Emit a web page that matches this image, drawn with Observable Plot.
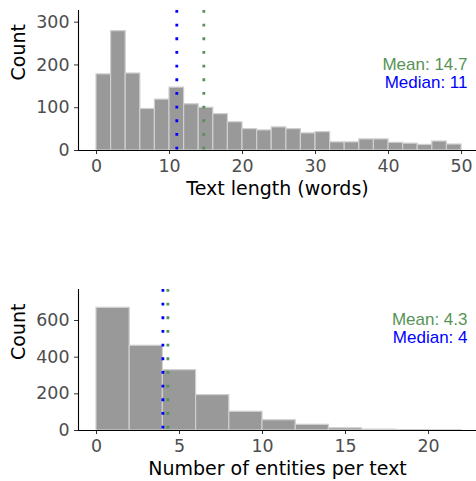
<!DOCTYPE html>
<html><head><meta charset="utf-8">
<script src="https://cdn.jsdelivr.net/npm/d3@7"></script>
<script src="https://cdn.jsdelivr.net/npm/@observablehq/plot@0.6"></script>
<style>
body{margin:0;background:#fff}
#chart svg{display:block}
</style>
</head><body><div id="chart"></div>
<script>
// Panel 1: text length histogram (bin width 2 words)
const lengthBinStart = [0,2,4,6,8,10,12,14,16,18,20,22,24,26,28,30,32,34,36,38,40,42,44,46,48];
const lengthCounts   = [178,279,180,97,119,147,108,100,85,66,50,47,54,50,40,43,19,19,26,26,18,16,13,21,14];
const lengthTicksX = [0,10,20,30,40,50];
const lengthTicksY = [0,100,200,300];
const lengthMean = 14.7;
const lengthMedian = 11;

// Panel 2: entities per text histogram (bin width 2)
const entityBinStart = [0,2,4,6,8,10,12,14,16,18,20];
const entityCounts   = [669,462,329,193,102,56,31,12,5,2,1];
const entityTicksX = [0,5,10,15,20];
const entityTicksY = [0,200,400,600];
const entityMean = 4.3;
const entityMedian = 4;

const binWidth = 2;
const meanColor = "#579357";
const medianColor = "#0000ff";

function panel(opts) {
  const {starts, counts, xDomain, yDomain, ticksX, ticksY, mean, median, xTitle,
         height, marginTop, marginBottom, labelDy} = opts;
  const bins = starts.map((s, i) => ({x1: s, x2: s + binWidth, count: counts[i]}));
  return Plot.plot({
    width: 476, height, marginTop, marginBottom, marginLeft: 78, marginRight: 0,
    style: {fontFamily: "DejaVu Sans", fontSize: "17px", color: "#4d4d4d", background: "#fff", overflow: "visible"},
    x: {domain: xDomain, axis: null},
    y: {domain: yDomain, axis: null},
    marks: [
      Plot.rectY(bins, {x1: "x1", x2: "x2", y: "count", fill: "#999999", stroke: "#cfcfcf", strokeWidth: 1.2}),
      Plot.ruleX([median], {stroke: medianColor, strokeWidth: 2.8, strokeDasharray: "2.8 10.87"}),
      Plot.ruleX([mean], {stroke: meanColor, strokeWidth: 2.8, strokeDasharray: "2.8 10.87"}),
      Plot.axisX({ticks: ticksX, tickSize: 4, tickPadding: 5, label: null, stroke: "#333", fill: "#4d4d4d", fontSize: 17.4}),
      Plot.axisY({ticks: ticksY, tickSize: 4, tickPadding: 5, label: null, stroke: "#333", fill: "#4d4d4d", fontSize: 17.4}),
      Plot.ruleY([yDomain[0]], {stroke: "#000", strokeWidth: 1.1}),
      Plot.ruleX([xDomain[0]], {stroke: "#000", strokeWidth: 1.1}),
      Plot.text([xTitle], {frameAnchor: "bottom", dy: 38, lineAnchor: "middle", fill: "#000", fontSize: 19, text: d => d}),
      Plot.text(["Count"], {frameAnchor: "left", dx: -60, rotate: -90, lineAnchor: "middle", fill: "#000", fontSize: 19, text: d => d}),
      Plot.text([`Mean: ${mean}`], {frameAnchor: "top-right", dx: -9, dy: labelDy[0], text: d => d, fill: meanColor,
        textAnchor: "end", lineAnchor: "middle", fontFamily: "Liberation Sans", fontSize: 17}),
      Plot.text([`Median: ${median}`], {frameAnchor: "top-right", dx: -9, dy: labelDy[1], text: d => d, fill: medianColor,
        textAnchor: "end", lineAnchor: "middle", fontFamily: "Liberation Sans", fontSize: 17})
    ]
  });
}

const chart = document.getElementById("chart");
chart.append(panel({
  starts: lengthBinStart, counts: lengthCounts, xDomain: [-2.466, 52.05], yDomain: [0, 327.3],
  ticksX: lengthTicksX, ticksY: lengthTicksY, mean: lengthMean, median: lengthMedian,
  xTitle: "Text length (words)", height: 280, marginTop: 10, marginBottom: 130, labelDy: [54.5, 72.5]
}));
chart.append(panel({
  starts: entityBinStart, counts: entityCounts, xDomain: [-1.084, 22.89], yDomain: [0, 769],
  ticksX: entityTicksX, ticksY: entityTicksY, mean: entityMean, median: entityMedian,
  xTitle: "Number of entities per text", height: 201, marginTop: 9, marginBottom: 51, labelDy: [30.5, 48.5]
}));
</script>
</body></html>
